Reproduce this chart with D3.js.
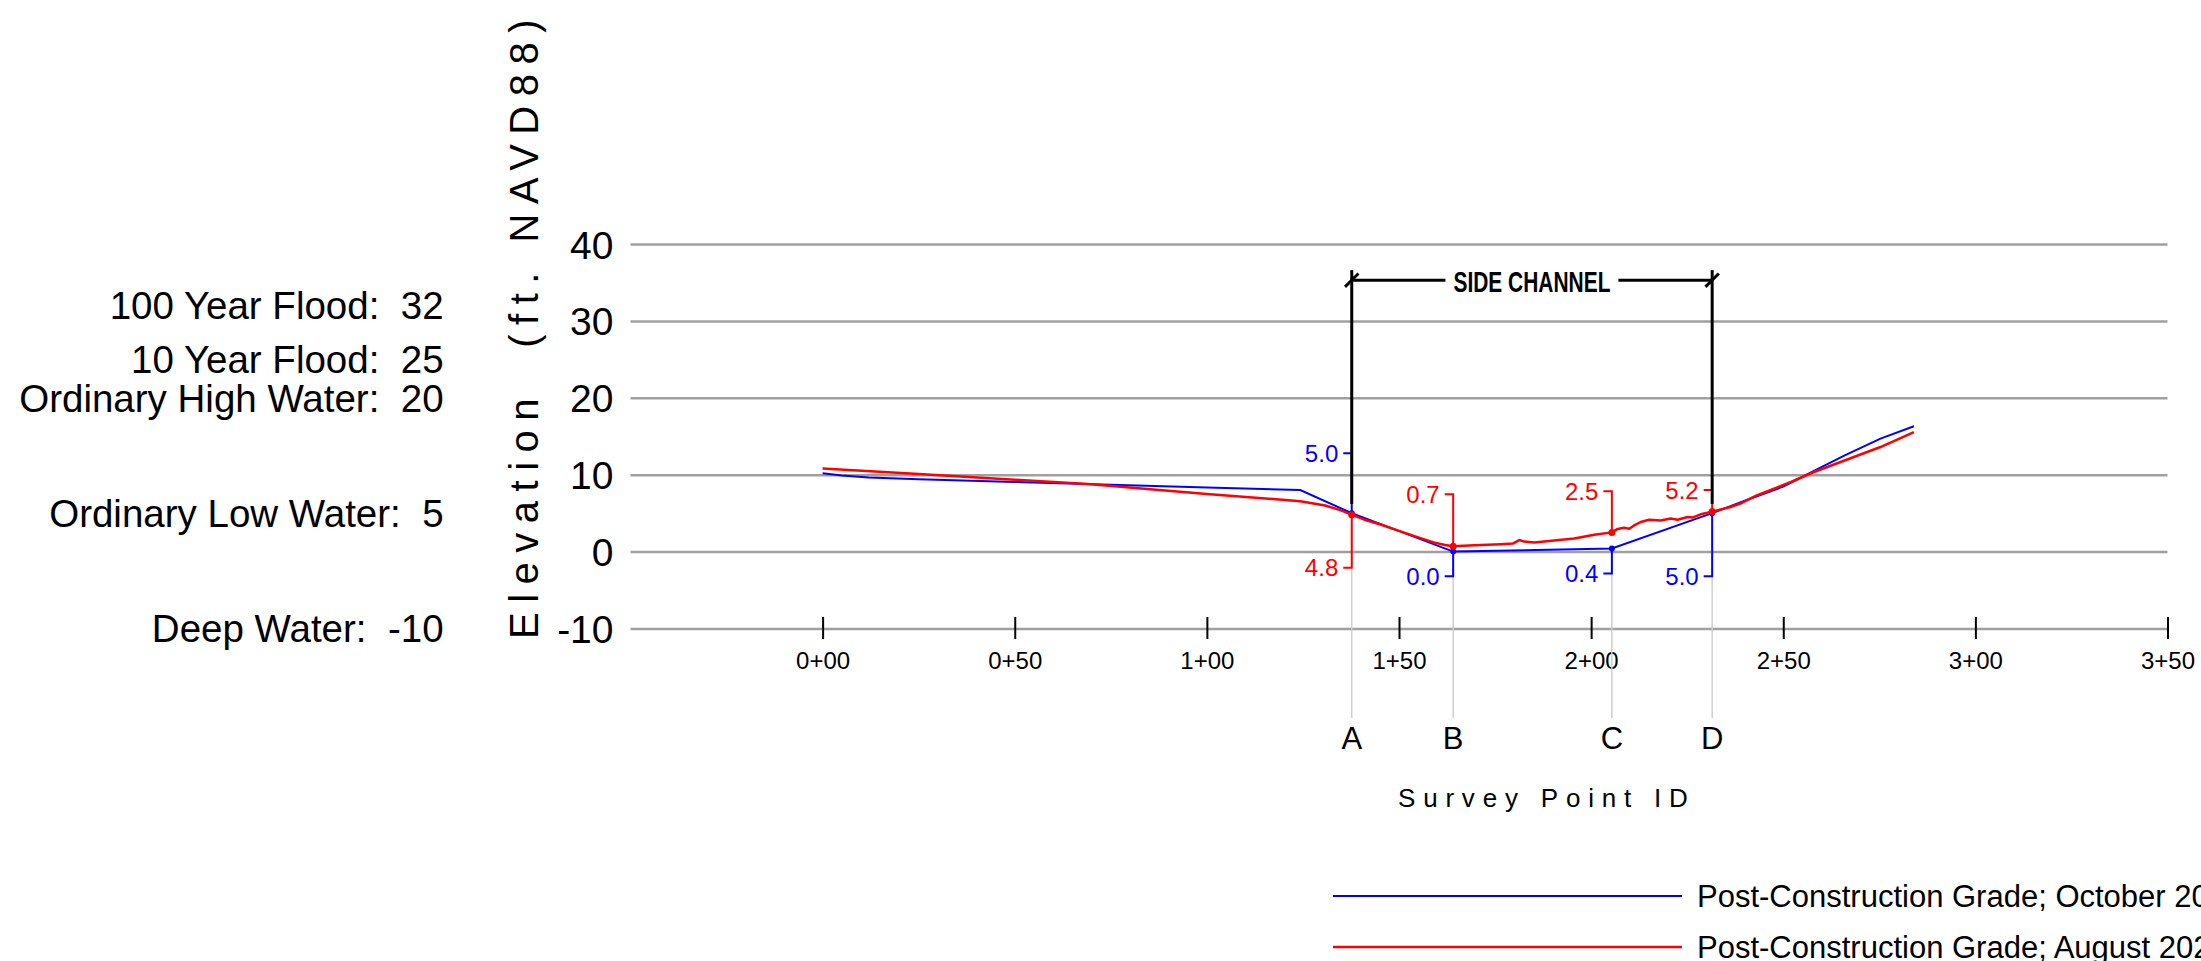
<!DOCTYPE html>
<html>
<head>
<meta charset="utf-8">
<script src="https://cdn.jsdelivr.net/npm/d3@7"></script>
<style>
  html, body { margin: 0; padding: 0; background: #fff; overflow: hidden; }
  svg { display: block; }
  text { font-family: "Liberation Sans", Arial, Helvetica, sans-serif; }
</style>
</head>
<body>
<svg id="chart" width="2201" height="961"></svg>
<script>
// ---- Survey points across the side channel ----
const pointIds = ["A", "B", "C", "D"];
const pointStations = [137.7, 164.1, 205.4, 231.5];
const octoberAtPoints = [5.0, 0.0, 0.4, 5.0];
const augustAtPoints = [4.8, 0.7, 2.5, 5.2];

// ---- Cross-section profiles between survey points (station ft, elevation ft) ----
const octoberStations = [0, 5, 12, 25, 50, 75, 100, 124.3, 241, 250, 258, 266, 275.3, 284];
const octoberElev     = [10.2, 9.9, 9.65, 9.4, 9.05, 8.7, 8.35, 8.0, 6.8, 8.45, 10.5, 12.5, 14.7, 16.3];

const augustStations = [0, 25, 50, 69, 100, 124.3, 130.8, 134.7,
  141, 145, 150, 155, 159, 162,
  169.6, 176.5, 179.6, 181.3, 182.6, 185.2, 190.4, 195.6, 200.8,
  206.9, 208.6, 209.9, 211.2, 212.9, 215.1, 218.1, 220.7, 222.5, 225.1, 226.5, 228.5,
  236.3, 239.2, 240.5, 243.1, 252, 258, 275.3, 284];
const augustElev = [10.8, 10.1, 9.35, 8.8, 7.5, 6.55, 6.0, 5.4,
  4.15, 3.55, 2.7, 1.85, 1.2, 0.85,
  0.82, 0.95, 1.04, 1.5, 1.3, 1.17, 1.45, 1.7, 2.2,
  2.95, 3.1, 2.97, 3.4, 3.85, 4.15, 4.05, 4.3, 4.15, 4.5, 4.45, 4.85,
  5.8, 6.32, 6.67, 7.3, 9.05, 10.35, 13.6, 15.55];

// ---- Axes and reference elevations ----
const stationTicks = [0, 50, 100, 150, 200, 250, 300, 350];
const elevationTicks = [-10, 0, 10, 20, 30, 40];
const waterLevelNames = ["100 Year Flood:", "10 Year Flood:", "Ordinary High Water:", "Ordinary Low Water:", "Deep Water:"];
const waterLevelValues = [32, 25, 20, 5, -10];
const seriesNames = ["Post-Construction Grade; October 2022", "Post-Construction Grade; August 2023"];
const seriesColors = ["#0000ff", "#ff0000"];
const channelLabel = "SIDE CHANNEL";

// ---- Layout ----
const svg = d3.select("#chart");
const x = d3.scaleLinear().domain([-50, 350]).range([630.5, 2167.5]);
const y = d3.scaleLinear().domain([-10, 40]).range([628.5, 244]);

function profile(stations, elev, ptVals) {
  const pts = stations.map((s, i) => ({ s, e: elev[i] }))
    .concat(pointStations.map((s, i) => ({ s, e: ptVals[i] })));
  return pts.sort((a, b) => a.s - b.s);
}
const octoberProfile = profile(octoberStations, octoberElev, octoberAtPoints);
const augustProfile = profile(augustStations, augustElev, augustAtPoints);

// Horizontal grid + elevation labels
const yAxis = d3.axisLeft(y)
  .tickValues(elevationTicks)
  .tickSize(-(x.range()[1] - x.range()[0]))
  .tickPadding(17)
  .tickFormat(d => String(d));
const gy = svg.append("g").attr("transform", `translate(${x.range()[0]},0)`).call(yAxis);
gy.select(".domain").remove();
gy.selectAll(".tick line").attr("stroke", "#a0a0a0").attr("stroke-width", 2.5);
gy.selectAll(".tick text")
  .attr("font-size", 39).attr("fill", "#000")
  .attr("font-family", '"Liberation Sans", Arial, sans-serif')
  .attr("dy", "0.36em");

// Station axis ticks and labels
const stationFmt = v => Math.floor(v / 100) + "+" + String(v % 100).padStart(2, "0");
const xAxis = d3.axisBottom(x)
  .tickValues(stationTicks)
  .tickSize(22)
  .tickPadding(12.6)
  .tickFormat(stationFmt);
const gx = svg.append("g").attr("transform", `translate(0,${y(-10) - 11.5})`).call(xAxis);
gx.select(".domain").remove();
gx.selectAll(".tick line").attr("stroke", "#000").attr("stroke-width", 2);
gx.selectAll(".tick text")
  .attr("font-size", 24).attr("fill", "#000")
  .attr("font-family", '"Liberation Sans", Arial, sans-serif');

// Water level reference labels
svg.append("g").selectAll("text")
  .data(waterLevelNames)
  .join("text")
  .attr("x", 443.6)
  .attr("y", (d, i) => y(waterLevelValues[i]))
  .attr("dy", "0.36em")
  .attr("text-anchor", "end")
  .attr("font-size", 38.5)
  .style("white-space", "pre")
  .text((d, i) => d + "  " + waterLevelValues[i]);

// Y axis title
svg.append("text")
  .attr("transform", `translate(538,639) rotate(-90)`)
  .attr("text-anchor", "start")
  .attr("font-size", 40)
  .attr("letter-spacing", 9.5)
  .style("white-space", "pre")
  .text("Elevation  (ft. NAVD88)");

// Guide lines from survey points down to their IDs
const guideBottom = y(-10) + 89.5;
svg.append("g").selectAll("line")
  .data(pointStations)
  .join("line")
  .attr("x1", d => x(d)).attr("x2", d => x(d))
  .attr("y1", (d, i) => y(Math.min(octoberAtPoints[i], augustAtPoints[i])))
  .attr("y2", guideBottom)
  .attr("stroke", "#cfcfcf").attr("stroke-width", 1.5);

svg.append("g").selectAll("text")
  .data(pointIds)
  .join("text")
  .attr("x", (d, i) => x(pointStations[i]))
  .attr("y", 749)
  .attr("text-anchor", "middle")
  .attr("font-size", 31)
  .text(d => d);

svg.append("text")
  .attr("x", 1398)
  .attr("y", 806.5)
  .attr("font-size", 26)
  .attr("letter-spacing", 7.8)
  .text("Survey Point ID");

// Value callouts: leader up or down from each point, with a short tick
const calloutUpper = [0, 1, 1, 1];          // series index drawn above (0 = October, 1 = August)
const calloutUpElev = [12.8, 7.45, 7.85, 8.0];
const calloutDownElev = [-2.1, -3.2, -2.85, -3.2];
const seriesAtPoints = [octoberAtPoints, augustAtPoints];
const fmt1 = d3.format(".1f");
const callouts = svg.append("g");
pointStations.forEach((s, i) => {
  const up = calloutUpper[i], down = 1 - up;
  [[up, calloutUpElev[i]], [down, calloutDownElev[i]]].forEach(([si, endElev]) => {
    const px = x(s), py = y(seriesAtPoints[si][i]), ey = y(endElev);
    callouts.append("path")
      .attr("d", `M${px},${py}V${ey}H${px - 8.5}`)
      .attr("fill", "none")
      .attr("stroke", seriesColors[si]).attr("stroke-width", 2);
    callouts.append("text")
      .attr("x", px - 13.5).attr("y", ey)
      .attr("dy", "0.36em")
      .attr("text-anchor", "end")
      .attr("font-size", 24)
      .attr("fill", seriesColors[si])
      .text(fmt1(seriesAtPoints[si][i]));
  });
});

// Side channel extent bracket
const xa = x(pointStations[0]), xd = x(pointStations[pointStations.length - 1]);
const bracketY = y(35.3), bracketTop = y(36.6), bracketBottom = y(6.2);
const bracket = svg.append("g").attr("stroke", "#000").attr("stroke-width", 3).attr("fill", "none");
[xa, xd].forEach(bx => {
  bracket.append("line").attr("x1", bx).attr("x2", bx).attr("y1", bracketTop).attr("y2", bracketBottom);
  bracket.append("line").attr("x1", bx - 6.7).attr("x2", bx + 6.7).attr("y1", bracketY + 6.7).attr("y2", bracketY - 6.7);
});
const textW = 157, midX = (xa + xd) / 2;
bracket.append("line").attr("x1", xa).attr("x2", midX - textW / 2 - 8).attr("y1", bracketY).attr("y2", bracketY);
bracket.append("line").attr("x1", midX + textW / 2 + 8).attr("x2", xd).attr("y1", bracketY).attr("y2", bracketY);
svg.append("text")
  .attr("x", midX - textW / 2)
  .attr("y", bracketY + 11.5)
  .attr("font-family", '"Liberation Sans Narrow", "DejaVu Sans Condensed", sans-serif')
  .attr("font-weight", "bold")
  .attr("font-size", 30)
  .attr("textLength", textW)
  .attr("lengthAdjust", "spacingAndGlyphs")
  .text(channelLabel);

// Ground profiles
const line = d3.line().x(d => x(d.s)).y(d => y(d.e));
svg.append("path").datum(octoberProfile)
  .attr("d", line).attr("fill", "none")
  .attr("stroke", seriesColors[0]).attr("stroke-width", 2);
svg.append("path").datum(augustProfile)
  .attr("d", line).attr("fill", "none")
  .attr("stroke", seriesColors[1]).attr("stroke-width", 2.5)
  .attr("stroke-linejoin", "round");

// Survey point markers
[octoberAtPoints, augustAtPoints].forEach((vals, si) => {
  svg.append("g").selectAll("circle")
    .data(vals)
    .join("circle")
    .attr("cx", (d, i) => x(pointStations[i]))
    .attr("cy", d => y(d))
    .attr("r", si === 0 ? 3 : 3.5)
    .attr("fill", seriesColors[si]);
});

// Legend
const legendY = [896, 947];
const legend = svg.append("g");
seriesNames.forEach((name, i) => {
  legend.append("line")
    .attr("x1", 1333).attr("x2", 1682)
    .attr("y1", legendY[i]).attr("y2", legendY[i])
    .attr("stroke", seriesColors[i]).attr("stroke-width", i === 0 ? 2 : 2.5);
  legend.append("text")
    .attr("x", 1697).attr("y", legendY[i])
    .attr("dy", "0.36em")
    .attr("font-size", 31)
    .text(name);
});
</script>
</body>
</html>
